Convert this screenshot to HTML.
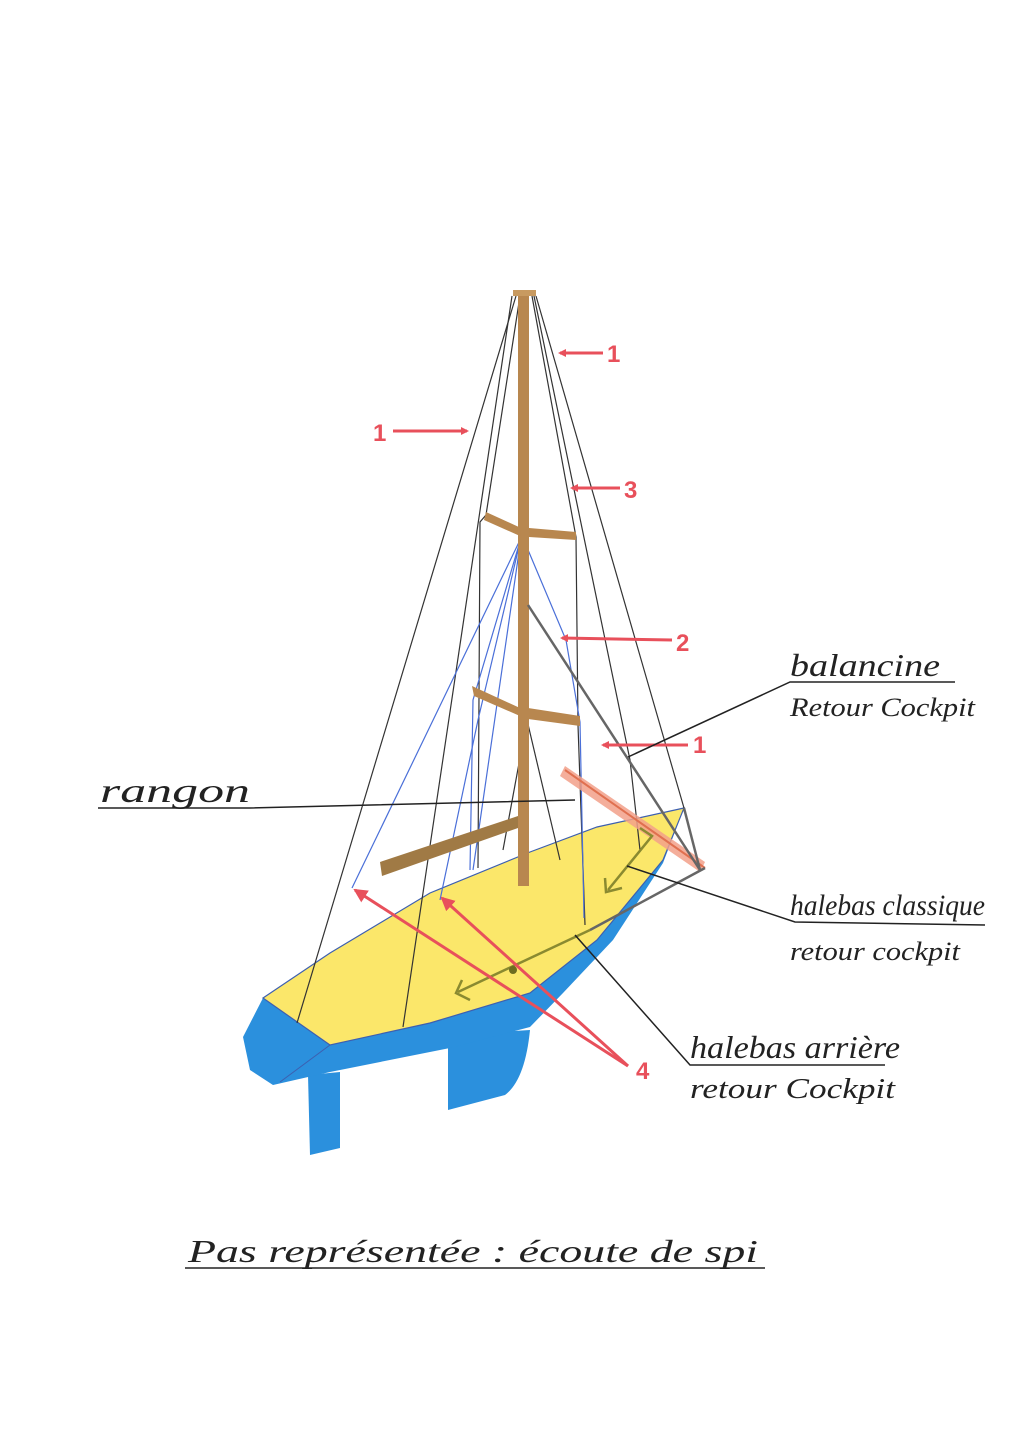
<!DOCTYPE html>
<html><head><meta charset="utf-8"><style>
html,body{margin:0;padding:0;background:#fff}
svg{display:block}
.hw{font-family:"Liberation Serif",serif;font-style:italic;fill:#222}
.num{font-family:"Liberation Sans",sans-serif;font-weight:bold;fill:#e8505b;font-size:24px}
</style></head><body>
<svg width="1024" height="1448" viewBox="0 0 1024 1448" xmlns="http://www.w3.org/2000/svg">
<defs>
<marker id="ar" markerWidth="8" markerHeight="8" refX="6" refY="4" orient="auto" markerUnits="userSpaceOnUse"><path d="M0,0 L8,4 L0,8 z" fill="#e8505b"/></marker>
<marker id="ar2" markerWidth="14" markerHeight="14" refX="12" refY="7" orient="auto" markerUnits="userSpaceOnUse"><path d="M0,0 L14,7 L0,14 z" fill="#e8505b"/></marker>
</defs>
<rect width="1024" height="1448" fill="#fff"/>
<path d="M448,1035 L530,1030 Q525,1080 505,1095 L448,1110 Z" fill="#2b90dd"/>
<path d="M308,1075 L340,1072 L340,1148 L310,1155 Z" fill="#2b90dd"/>
<path d="M263,998 L243,1037 L250,1070 L273,1085 L330,1072 L450,1048 L530,1027 L563,993 L613,940 L663,863 L684,808 L597,940 L530,993 L430,1023 L330,1045 Z" fill="#2b90dd"/>
<path d="M263,998 L330,953 L430,893 L530,852 L597,827 L684,808 L663,860 L597,940 L530,993 L430,1023 L330,1045 Z" fill="#fbe76a" stroke="#3d5fb0" stroke-width="1.2"/>
<path d="M330,1045 L280,1082" stroke="#3d5fb0" stroke-width="1" fill="none"/>
<g stroke="#333" stroke-width="1.2" fill="none">
<path d="M516,296 L297,1023"/>
<path d="M512,296 L403,1027"/>
<path d="M520,296 L486,515 L480,522 L478,868"/>
<path d="M532,296 L576,537 L578,725 L585,925"/>
<path d="M536,296 L684,808"/>
<path d="M534,296 L630,760 L640,850"/>
<path d="M527,720 L503,850"/>
<path d="M527,720 L560,860"/>
</g>
<g stroke="#4a6fd8" stroke-width="1.2" fill="none">
<path d="M521,538 L352,888"/>
<path d="M521,538 L473,700 L470,870"/>
<path d="M521,538 L478,720 L440,900"/>
<path d="M523,538 L566,640 L580,722 L584,918"/>
<path d="M521,538 L473,870"/>
</g>
<rect x="518" y="294" width="11" height="592" fill="#b8874f"/>
<rect x="513" y="290" width="23" height="6" fill="#c89a60"/>
<path d="M486,512 L521,528 L520,536 L484,520 Z" fill="#b8874f"/>
<path d="M529,528 L576,532 L576,540 L529,537 Z" fill="#b8874f"/>
<path d="M472,686 L520,708 L520,716 L474,696 Z" fill="#b8874f"/>
<path d="M528,708 L580,716 L580,726 L528,719 Z" fill="#b8874f"/>
<path d="M380,862 L518,816 L518,828 L382,876 Z" fill="#a07a45"/>
<path d="M565,766 L705,862 L700,872 L560,776 Z" fill="#f2a08a" opacity="0.85"/>
<path d="M565,770 L705,868" stroke="#e07050" stroke-width="2"/>
<g stroke="#666" stroke-width="2.5" fill="none">
<path d="M528,605 L700,870"/>
<path d="M684,808 L700,870"/>
<path d="M705,868 L590,930"/>
</g>
<g stroke="#8a8a30" stroke-width="2.5" fill="none">
<path d="M640,828 L652,836 L608,890"/>
<path d="M605,878 L606,892 L622,888"/>
<path d="M590,930 L458,992"/>
<path d="M462,980 L456,993 L470,1000"/>
</g>
<circle cx="513" cy="970" r="4" fill="#6d6d20"/>
<g stroke="#e8505b" stroke-width="3" fill="none">
<path d="M603,353 L560,353" marker-end="url(#ar)"/>
<path d="M393,431 L467,431" marker-end="url(#ar)"/>
<path d="M620,488 L572,488" marker-end="url(#ar)"/>
<path d="M672,640 L562,638" marker-end="url(#ar)"/>
<path d="M688,745 L603,745" marker-end="url(#ar)"/>
<path d="M628,1066 L355,890" marker-end="url(#ar2)"/>
<path d="M628,1066 L442,898" marker-end="url(#ar2)"/>
</g>
<text class="num" x="607" y="362">1</text>
<text class="num" x="373" y="441">1</text>
<text class="num" x="624" y="498">3</text>
<text class="num" x="676" y="651">2</text>
<text class="num" x="693" y="753">1</text>
<text class="num" x="636" y="1079">4</text>
<g stroke="#222" stroke-width="1.5" fill="none">
<path d="M628,757 L790,682 L955,682"/>
<path d="M98,808 L250,808 L575,800"/>
<path d="M627,866 L795,922 L985,925"/>
<path d="M575,935 L690,1065 L885,1065"/>
<path d="M185,1268 L765,1268"/>
</g>
<text class="hw" x="790" y="676" font-size="32" textLength="150" lengthAdjust="spacingAndGlyphs">balancine</text>
<text class="hw" x="790" y="716" font-size="26" textLength="185" lengthAdjust="spacingAndGlyphs">Retour Cockpit</text>
<text class="hw" x="100" y="802" font-size="34" textLength="150" lengthAdjust="spacingAndGlyphs">rangon</text>
<text class="hw" x="790" y="915" font-size="30" textLength="195" lengthAdjust="spacingAndGlyphs">halebas classique</text>
<text class="hw" x="790" y="960" font-size="26" textLength="170" lengthAdjust="spacingAndGlyphs">retour cockpit</text>
<text class="hw" x="690" y="1058" font-size="32" textLength="210" lengthAdjust="spacingAndGlyphs">halebas arrière</text>
<text class="hw" x="690" y="1098" font-size="28" textLength="205" lengthAdjust="spacingAndGlyphs">retour Cockpit</text>
<text class="hw" x="188" y="1262" font-size="32" textLength="570" lengthAdjust="spacingAndGlyphs">Pas représentée : écoute de spi</text>
</svg>
</body></html>
